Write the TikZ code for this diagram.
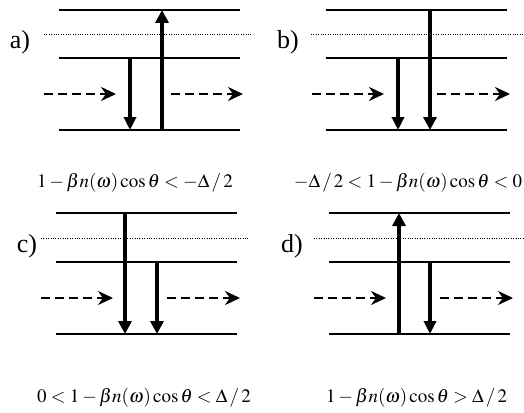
\documentclass[tikz,border=0pt]{standalone}
\usepackage{amsmath}
\usepackage{mathptmx}
\usepackage{fontspec}
\setmainfont{Liberation Serif}
\usetikzlibrary{arrows.meta}

\begin{document}
\begin{tikzpicture}[x=1pt,y=-1pt,
  level/.style={line width=2.5pt},
  virtual/.style={line width=0.9pt,dash pattern=on 0.9pt off 1.5pt},
  photon/.style={line width=2.2pt,dash pattern=on 9pt off 5pt,-{Stealth[length=15pt,width=14pt]}},
  trans/.style={line width=3.6pt,-{Triangle[length=13pt,width=12pt]}},
  strong/.style={line width=4.6pt,-{Triangle[length=13pt,width=13pt]}},
  tag/.style={font=\fontsize{26}{26}\selectfont,inner sep=0pt},
  cond/.style={font=\fontsize{19}{19}\selectfont,inner sep=0pt}]
\useasboundingbox (0,0) rectangle (524,412);
% a)
\begin{scope}[shift={(59,10)}]
\draw[level] (0,0)--(181,0);
\draw[virtual] (-15,24)--(192,24);
\draw[level] (0,48)--(181,48);
\draw[level] (0,120)--(181,120);
\draw[photon] (-15,84)--(57,84);
\draw[photon] (112,84)--(184,84);
\draw[trans] (71,48)--(71,120);
\draw[strong] (103,120)--(103,0);
\end{scope}
\node[tag] (la) at (20,42) {a)};
\node[cond] (ca) at (135,183) {$1-\beta n(\omega)\cos\theta<-\Delta\,/\,2$};
% b)
\begin{scope}[shift={(326,10)}]
\draw[level] (0,0)--(181,0);
\draw[virtual] (-15,24)--(200,24);
\draw[level] (0,48)--(181,48);
\draw[level] (0,120)--(181,120);
\draw[photon] (-14,84)--(58,84);
\draw[photon] (111,84)--(184,84);
\draw[trans] (72,48)--(72,120);
\draw[strong] (104,0)--(104,120);
\end{scope}
\node[tag] (lb) at (288,42) {b)};
\node[cond] (cb) at (408,183) {$-\Delta\,/\,2<1-\beta n(\omega)\cos\theta<0$};
% c)
\begin{scope}[shift={(56,213)}]
\draw[level] (0,0)--(181,0);
\draw[virtual] (-15,25)--(192,25);
\draw[level] (0,49)--(181,49);
\draw[level] (0,121)--(181,121);
\draw[photon] (-15,85)--(57,85);
\draw[photon] (111,85)--(184,85);
\draw[strong] (69,0)--(69,121);
\draw[strong] (101,49)--(101,121);
\end{scope}
\node[tag] (lc) at (27,246) {c)};
\node[cond] (cc) at (144,398) {$0<1-\beta n(\omega)\cos\theta<\Delta\,/\,2$};
% d)
\begin{scope}[shift={(329,213)}]
\draw[level] (0,0)--(181,0);
\draw[virtual] (-15,25)--(200,25);
\draw[level] (0,49)--(181,49);
\draw[level] (0,121)--(181,121);
\draw[photon] (-15,85)--(57,85);
\draw[photon] (111,85)--(184,85);
\draw[strong] (70,121)--(70,0);
\draw[trans] (101,49)--(101,121);
\end{scope}
\node[tag] (ld) at (292,246) {d)};
\node[cond,anchor=west] (cd) at (326,398) {$1-\beta n(\omega)\cos\theta>\Delta\,/\,2$};
\end{tikzpicture}
\end{document}
